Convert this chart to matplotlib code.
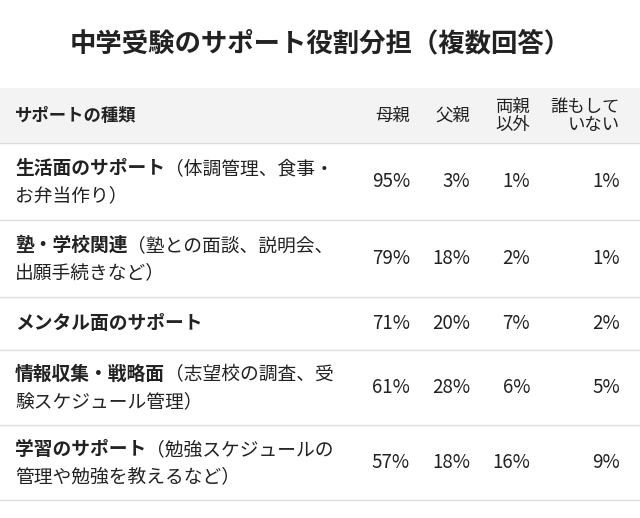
import matplotlib
matplotlib.use("Agg")
import matplotlib.pyplot as plt

plt.rcParams['font.family'] = ['Noto Sans CJK JP', 'DejaVu Sans']

title = "中学受験のサポート役割分担（複数回答）"
col_headers = ["母親", "父親", "両親\n以外", "誰もして\nいない"]
categories = ["生活面のサポート", "塾・学校関連", "メンタル面のサポート", "情報収集・戦略面", "学習のサポート"]
notes1 = ["（体調管理、食事・", "（塾との面談、説明会、", "", "（志望校の調査、受", "（勉強スケジュールの"]
notes2 = ["お弁当作り）", "出願手続きなど）", "", "験スケジュール管理）", "管理や勉強を教えるなど）"]
mother = [95, 79, 71, 61, 57]
father = [3, 18, 20, 28, 18]
others = [1, 2, 7, 6, 16]
nobody = [1, 1, 2, 5, 9]

fig = plt.figure(figsize=(6.4, 5.18), dpi=100)
ax = fig.add_axes([0, 0, 1, 1])
ax.set_xlim(0, 640); ax.set_ylim(518, 0); ax.axis('off')
txt = '#222222'
ax.text(320, 44, title, ha='center', va='center', fontsize=19, fontweight='bold', color=txt)
ax.add_patch(plt.Rectangle((0, 88), 640, 55, color='#f3f3f3', lw=0))
ax.text(15, 116, "サポートの種類", va='center', fontsize=12.5, fontweight='bold', color=txt)
col_x = [410, 470, 530, 620]
for x, h in zip(col_x, col_headers):
    ax.text(x, 116, h, ha='right', va='center', fontsize=12.5, color=txt, linespacing=1.0)

lines = [143, 220, 297, 350, 425, 500]
for y in lines:
    ax.plot([0, 640], [y, y], color='#dddddd', lw=1)
fig.canvas.draw()
r = fig.canvas.get_renderer()
for i in range(5):
    top, bot = lines[i], lines[i + 1]
    mid = (top + bot) / 2
    if notes1[i]:
        y1, y2 = mid - 13, mid + 14
    else:
        y1 = mid
    t = ax.text(15, y1, categories[i], va='center', fontsize=13.5, fontweight='bold', color=txt)
    if notes1[i]:
        bb = t.get_window_extent(r)
        x0 = ax.transData.inverted().transform((bb.x1, 0))[0]
        ax.text(x0, y1, notes1[i], va='center', fontsize=13.5, color=txt)
        ax.text(15, y2, notes2[i], va='center', fontsize=13.5, color=txt)
    for x, v in zip(col_x, [mother[i], father[i], others[i], nobody[i]]):
        ax.text(x, mid, f"{v}%", ha='right', va='center', fontsize=13.5, color=txt)
fig.savefig("out.png", dpi=100, facecolor='white')
